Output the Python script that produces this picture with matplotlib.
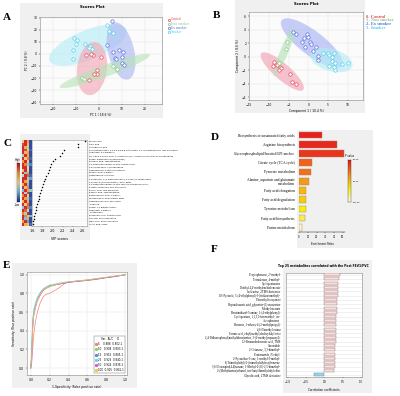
import numpy as np
import matplotlib
matplotlib.use('Agg')
import matplotlib.pyplot as plt
from matplotlib.patches import Rectangle
from matplotlib.lines import Line2D
from matplotlib.colors import LinearSegmentedColormap, ListedColormap

W, H = 400.0, 396.0
SERIF = 'Liberation Serif'

# ---------------- data ----------------
groups = ['Control', 'Non smoker', 'Ex smoker', 'Smoker']
grp_col = ['#e8485a', '#86c986', '#5a6ee0', '#4fd0e6']
grp_fill = ['#f2a3b3', '#b5e3b5', '#a9b4f2', '#b3ecf6']

# A: PCA scores
pca_x = [[-5.4, -2.7, 0.7, -0.7, -1.0, -2.2, -4.2, -3.6],
         [-7.5, -6.5, 6.2, 7.7],
         [5.5, 3.3, 6.2, 8.8, 10.3, 7.0, 9.9, 9.9, 10.9, 7.6],
         [-10.9, -9.7, -10.0, -11.4, -6.0, -3.9, -3.2, -11.4, 3.3, 4.5, 6.2, -4.5]]
pca_y = [[-0.8, -0.8, -3.0, -13.0, -16.5, -17.0, -22.0, -0.5],
         [-19.8, -20.6, -10.3, -12.5],
         [26.8, 7.1, 1.9, 3.0, 1.9, -3.8, -3.0, -7.9, -8.9, -4.0],
         [12.8, 11.4, 7.9, 3.5, 7.9, 6.5, 4.3, -4.3, 23.6, 18.7, 17.3, 5.0]]
pca_ell_c = [(-3.0, -12.2), (2.6, -14.2), (9.6, 2.4), (-4.8, 7.3)]
pca_ell_u = [(1.0, 22.0), (19.6, 13.4), (3.0, -23.6), (16.7, 13.0)]
pca_ell_v = [(6.5, 0.0), (0.9, -4.6), (5.5, 2.5), (2.5, -11.3)]

# B: PLS-DA scores
pls_x = [[-8.7, -8.9, -8.0, -7.2, -6.8, -7.4, -4.7, -4.2, -3.1],
         [-7.4, -5.7, -5.5],
         [-3.8, -3.2, -1.7, -1.0, -0.3, 0.4, 0.7, -0.8, 1.1, 2.5, 2.5, 1.8, 0.0],
         [3.8, 4.9, 5.3, 6.0, 6.5, 6.0, 6.8, 6.4, 6.6, 5.1, 8.5, 10.0]]
pls_y = [[-0.8, -1.4, -1.3, -1.5, -1.7, -2.0, -2.6, -3.8, -4.0],
         [-0.9, 1.2, 2.1],
         [3.6, 3.3, 2.1, 2.7, 3.3, 2.2, 1.8, 1.5, 0.9, 0.1, -0.5, 1.4, 2.9],
         [0.5, 0.6, 0.25, 0.0, 0.6, -0.7, -0.9, -1.5, -1.9, -1.4, -1.1, -0.9]]
pls_ell_c = [(-6.6, -2.2), (-6.1, 0.74), (0.87, 2.0), (5.8, -0.5)]
pls_ell_u = [(5.3, -2.7), (2.6, 3.6), (7.6, -3.4), (5.3, -0.9)]
pls_ell_v = [(1.35, 0.88), (0.94, -0.22), (1.9, 1.4), (0.77, 1.56)]

# C: VIP scores
vip_names = ['Pyruvic acid', 'Oleic acid', 'Lactobacillic acid',
             'Cyclotetrasiloxane, 2,2,4,4,6,6,8,8-octamethyl-1,1\'-dimethylene bis, TMS derivative',
             'Undecane, 3,7-dimethyl-',
             '1H-Indole-3-acetic acid, 1-(trimethylsilyl)-, trimethylsilyl ester, 2TMS derivative',
             'Silane, diethylmethyl(dodecyloxy)-', 'Octanoic acid, TMS derivative',
             '1,2-Benzenedicarboxylic acid, dibutyl ester', '2-Ethylhexanoic, TMS derivative',
             'Hexadecanoic, 2-methyl-2-phenyl-', 'Palmitic acid, 2-methyl-',
             'Heptadecane, 2-methyl-', '1-Butanone, 1-(4-methoxyphenyl)-2-phenyl-2-propylidene',
             'L-Valine, N-(trifluoroacetyl)-, butyl ester',
             '1,2-Benzenedicarboxylic acid, bis(2-methylpropyl) ester',
             '2-Methylpropanoic acid, ethyl ester', 'Stearic acid, TMS derivative',
             'Benzoic acid, TMS derivative', 'Benzeneacetic acid, 4-methyl-',
             'Pentadecanoic acid, methyl ester', 'Hexadecanoic acid, ethyl ester',
             'Tridecane', 'Silane, 1,1-dimethylbutyl-', 'Dodecane, 2-methyl-',
             'Pentadecane', 'Phosphoric acid, tributyl ester', 'Glycerol, 3TMS derivative',
             'Malic acid, 3TMS derivative', 'Lactic acid, 2TMS']
vip_vals = [2.65, 2.50, 2.50, 2.23, 2.18, 2.14, 2.06, 2.02, 1.98, 1.95, 1.93, 1.91, 1.88,
            1.86, 1.84, 1.82, 1.80, 1.78, 1.76, 1.74, 1.73, 1.71, 1.70, 1.68, 1.67,
            1.65, 1.64, 1.63, 1.62, 1.61]
vip_heat = [[0.2, 0.9, 0.5, -0.9], [0.8, 0.9, 0.3, -0.9], [0.9, 0.4, -0.3, -0.9],
            [0.9, 0.8, 0.2, -0.8], [0.9, 0.3, 0.5, -0.9], [-0.3, 0.9, 0.4, -0.9],
            [0.9, 0.2, 0.6, -0.8], [0.5, 0.9, 0.2, -0.9], [0.9, 0.6, -0.4, -0.7],
            [0.9, 0.9, 0.1, -0.9], [0.3, 0.9, -0.2, -0.9], [0.9, -0.4, 0.5, -0.9],
            [-0.2, 0.9, 0.7, -0.8], [0.9, 0.9, -0.3, -0.6], [0.9, 0.5, 0.3, -0.9],
            [0.4, 0.9, -0.5, -0.9], [0.9, 0.3, 0.6, -0.9], [-0.5, 0.9, 0.5, -0.4],
            [0.9, -0.3, 0.8, -0.9], [0.6, 0.9, 0.2, -0.9], [0.9, 0.5, -0.4, -0.8],
            [0.3, 0.9, 0.4, -0.9], [0.9, 0.2, 0.7, -0.9], [-0.4, 0.9, 0.6, -0.7],
            [0.9, 0.7, -0.2, -0.9], [0.6, -0.3, 0.9, -0.9], [0.9, 0.6, 0.3, -0.5],
            [0.9, -0.5, 0.4, -0.9], [0.5, 0.9, -0.6, -0.9], [0.9, 0.4, 0.3, -0.8]]

# D: pathway enrichment
path_names = ['Biosynthesis of unsaturated fatty acids', 'Arginine biosynthesis',
              'Glycerophospholipid/Inositol/GPI-anchor', 'Citrate cycle (TCA cycle)',
              'Pyruvate metabolism', 'Alanine, aspartate and glutamate\nmetabolism',
              'Fatty acid elongation', 'Fatty acid degradation', 'Tyrosine metabolism',
              'Fatty acid biosynthesis', 'Purine metabolism']
path_ratio = [26.2, 43.8, 51.2, 15.4, 13.8, 11.2, 8.1, 8.1, 7.7, 6.9, 3.8]
path_col = ['#e8201c', '#e8281c', '#e8361c', '#f0621c', '#f2701c', '#f29a1c',
            '#f5b90e', '#f5cc0e', '#f5ee10', '#f5ee50', '#faf6c8']

# E: ROC curves
roc_fpr = [0.0, 0.01, 0.02, 0.03, 0.05, 0.07, 0.1, 0.13, 0.16, 0.2, 0.25, 0.3,
           0.35, 0.4, 0.5, 0.6, 0.7, 0.8, 0.9, 1.0]
roc_tpr = [
    [0.0, 0.05, 0.2, 0.35, 0.5, 0.6, 0.7, 0.76, 0.79, 0.8, 0.83, 0.86, 0.9, 0.92, 0.93, 0.94, 0.95, 0.97, 0.98, 1.0],
    [0.0, 0.2, 0.5, 0.6, 0.68, 0.73, 0.79, 0.83, 0.85, 0.87, 0.89, 0.9, 0.91, 0.92, 0.93, 0.94, 0.955, 0.97, 0.985, 1.0],
    [0.0, 0.15, 0.45, 0.58, 0.67, 0.74, 0.8, 0.84, 0.86, 0.88, 0.89, 0.9, 0.91, 0.92, 0.935, 0.945, 0.96, 0.97, 0.985, 1.0],
    [0.0, 0.25, 0.5, 0.62, 0.7, 0.76, 0.81, 0.85, 0.87, 0.89, 0.9, 0.91, 0.92, 0.925, 0.935, 0.945, 0.955, 0.97, 0.985, 1.0],
    [0.0, 0.1, 0.4, 0.55, 0.65, 0.72, 0.78, 0.83, 0.86, 0.88, 0.89, 0.9, 0.91, 0.92, 0.93, 0.94, 0.955, 0.97, 0.985, 1.0],
    [0.0, 0.12, 0.42, 0.56, 0.66, 0.73, 0.79, 0.84, 0.86, 0.875, 0.89, 0.905, 0.915, 0.925, 0.935, 0.945, 0.96, 0.975, 0.99, 1.0]]
roc_var = ['5', '10', '15', '25', '50', '100']
roc_auc = ['0.888', '0.908', '0.915', '0.925', '0.924', '0.925']
roc_ci = ['0.802-1', '0.803-1', '0.805-1', '0.840-1', '0.839-1', '0.841-1']
roc_col = ['#f28080', '#8fd65a', '#5b8ee6', '#62dbe8', '#e055e0', '#f2c84a']

# F: correlation
corr_names = ["Propiophenone, 2'-methyl-", 'Tetradecane, 4-methyl-', 'Cyclopentanone',
              "Diethyl 4,4'-methylenebisbenzoate", 'Isoleucine, 2TMS derivative',
              '1H-Pyrazole, 5-(4-ethylphenyl)-3-(trifluoromethyl)-', 'Phenethyl isocyanate',
              'Heptadecanoic acid, glycerine-(1)-monoester', 'Methyl stearate',
              'Benzimidazol-5-amine, 1-(4-ethylphenyl)-', 'Cyclopentane, 1,1,3,3-tetramethyl-, cis-',
              'Acetophenone', 'Benzene, 1-ethoxy-4-(2-methylpropyl)-', '4,6-Dimethyl octane',
              'Formic acid, ethyl(methyl)dodecylsilyl ester',
              '2,4-Difluorophenyl(methylidene)amine, 3-(2-methylpropanoyl)-',
              '12-Bromododecanoic acid, TMS', 'Coronalide', '2-Octanone, 3,3-dimethyl-',
              'Pentanamide, N-ethyl-', '2-Pyrazoline-5-one, 1-methyl-3-methyl-',
              '1-(Trimethylsilyl)-2-(trimethylsilyloxy)benzene',
              '3,6-Dioxaspiro[4.4]nonane, 1-Methyl-2-(E)-2,5-dimethyl-',
              '2-(Methylamino)ethanol, tert-butyldimethylsilyl ether',
              'Glycolic acid, 2TMS derivative']
corr_vals = [0.42, 0.39, 0.37, 0.37, 0.36, 0.36, 0.35, 0.35, 0.34, 0.34, 0.33, 0.33,
             0.33, 0.32, 0.32, 0.31, 0.31, 0.30, 0.30, 0.29, 0.29, 0.28, 0.28, 0.27, -0.27]


def box(x0, y0, x1, y1):
    return [x0 / W, 1 - y1 / H, (x1 - x0) / W, (y1 - y0) / H]


def ftext(x, y, s, **kw):
    fig.text(x / W, 1 - y / H, s, **kw)


def gray_bg(x0, y0, x1, y1, c='#f0f0f0'):
    fig.add_artist(Rectangle((x0 / W, 1 - y1 / H), (x1 - x0) / W, (y1 - y0) / H,
                             transform=fig.transFigure, fc=c, ec='none', zorder=0))


def ellipse(ax, c, u, v, **kw):
    t = np.linspace(0, 2 * np.pi, 120)
    ax.fill(c[0] + u[0] * np.cos(t) + v[0] * np.sin(t),
            c[1] + u[1] * np.cos(t) + v[1] * np.sin(t), **kw)


def small_axes(ax, fs=2.2):
    ax.tick_params(labelsize=fs, length=1, width=0.3, pad=1)
    for s in ax.spines.values():
        s.set_linewidth(0.4)
        s.set_color('#888888')
    ax.grid(color='#e2e2e2', lw=0.3)
    ax.set_axisbelow(True)


fig = plt.figure(figsize=(W / 100, H / 100), dpi=100)

# ---------------- A ----------------
gray_bg(20, 3, 163, 118)
ax = fig.add_axes(box(40, 17, 162, 104))
ax.set_facecolor('#fbfbfb')
small_axes(ax)
for i in [3, 0, 2, 1]:
    ellipse(ax, pca_ell_c[i], pca_ell_u[i], pca_ell_v[i], color=grp_fill[i], alpha=0.6, lw=0, zorder=1)
for i in range(4):
    ax.scatter(pca_x[i], pca_y[i], s=6, facecolor='white', edgecolor=grp_col[i], lw=0.5, zorder=3)
ax.set_xlim(-25.6, 27.4)
ax.set_ylim(-41.5, 30.5)
ax.set_xticks([-20, -10, 0, 10, 20])
ax.set_yticks([30, 20, 10, 0, -10, -20, -30, -40])
ax.set_xlabel('PC 1 ( 18.6 %)', fontsize=2.2, labelpad=1.5)
ax.set_ylabel('PC 2 ( 9.8 %)', fontsize=2.2, labelpad=1.5)
ftext(92, 7, 'Scores Plot', fontsize=2.8, fontweight='bold', ha='center', va='center')
for i, g in enumerate(groups):
    yy = 19.5 + i * 4.2
    fig.add_artist(Line2D([168.5 / W], [1 - yy / H], marker='o', ms=1.6, mfc='white',
                          mec=grp_col[i], mew=0.5, transform=fig.transFigure))
    ftext(171, yy, g, fontsize=2.6, color=grp_col[i], va='center', family=SERIF)
ftext(3, 17, 'A', fontsize=8, fontweight='bold', family=SERIF, va='center')

# ---------------- B ----------------
gray_bg(235, 0, 365, 113)
ax = fig.add_axes(box(249, 12, 363, 100))
ax.set_facecolor('#fbfbfb')
small_axes(ax)
for i in [2, 3, 0, 1]:
    ellipse(ax, pls_ell_c[i], pls_ell_u[i], pls_ell_v[i], color=grp_fill[i], alpha=0.65, lw=0, zorder=1)
for i in range(4):
    ax.scatter(pls_x[i], pls_y[i], s=6, facecolor='white', edgecolor=grp_col[i], lw=0.5, zorder=3)
ax.set_xlim(-15, 13.8)
ax.set_ylim(-6.4, 6.6)
ax.set_xticks([-15, -10, -5, 0, 5, 10])
ax.set_yticks([6, 4, 2, 0, -2, -4, -6])
ax.set_xlabel('Component 1 ( 10.4 %)', fontsize=2.2, labelpad=1.5)
ax.set_ylabel('Component 2 ( 8.6 %)', fontsize=2.2, labelpad=1.5)
ftext(306, 4, 'Scores Plot', fontsize=2.8, fontweight='bold', ha='center', va='center')
for i, g in enumerate(groups):
    ftext(366, 16.5 + i * 3.8, '%d- %s' % (i, g), fontsize=3.2, color=grp_col[i],
          va='center', family=SERIF, fontweight='bold')
ftext(213, 16, 'B', fontsize=8, fontweight='bold', family=SERIF, va='center')

# ---------------- C ----------------
gray_bg(20, 134, 90, 240)
gray_bg(14, 158, 21, 208, c='#f6f6f6')
heat_cmap = LinearSegmentedColormap.from_list(
    'hm', ['#27308f', '#73c3e0', '#fbe3a0', '#f5a03a', '#c8102e'])
axh = fig.add_axes(box(21.7, 140, 31, 225.7))
axh.imshow(np.array(vip_heat), aspect='auto', cmap=heat_cmap, vmin=-1, vmax=1,
           interpolation='nearest')
axh.set_xticks([])
axh.set_yticks([])
for s in axh.spines.values():
    s.set_visible(False)
axcb = fig.add_axes(box(16.5, 163, 19, 202))
axcb.imshow(np.linspace(1, -1, 50)[:, None], aspect='auto', cmap=heat_cmap, vmin=-1, vmax=1)
axcb.set_xticks([])
axcb.set_yticks([])
for s in axcb.spines.values():
    s.set_linewidth(0.2)
ftext(17.5, 160, 'High', fontsize=1.8, ha='center', va='center')
ftext(17.5, 205, 'Low', fontsize=1.8, ha='center', va='center')

ax = fig.add_axes(box(31.7, 140, 87.3, 225.7))
ax.set_facecolor('white')
n = len(vip_vals)
ax.scatter(vip_vals, np.arange(n), s=1.2, color='black', zorder=3, lw=0)
ax.set_ylim(n - 0.5, -0.5)
ax.set_xlim(1.59, 2.69)
ax.set_xticks([1.6, 1.8, 2.0, 2.2, 2.4, 2.6])
ax.set_xticklabels(['1.6', '1.8', '2.0', '2.2', '2.4', '2.6'])
ax.set_yticks(np.arange(n))
ax.yaxis.tick_right()
ax.set_yticklabels(vip_names, fontsize=1.5)
ax.tick_params(axis='y', length=0, pad=1.5)
ax.tick_params(axis='x', labelsize=2.4, length=1, width=0.3, pad=1.5)
ax.grid(axis='y', color='#e6e6e6', lw=0.3)
ax.set_axisbelow(True)
for s in ax.spines.values():
    s.set_linewidth(0.4)
    s.set_color('#999999')
ax.set_xlabel('VIP scores', fontsize=2.4, labelpad=3)
ftext(3, 143, 'C', fontsize=8, fontweight='bold', family=SERIF, va='center')

# ---------------- D ----------------
gray_bg(297, 130, 373, 248)
ax = fig.add_axes(box(299, 130.4, 345, 232))
ax.patch.set_visible(False)
m = len(path_ratio)
ax.barh(np.arange(m), path_ratio, height=0.72, color=path_col, edgecolor='#a08070', lw=0.3)
ax.set_ylim(m - 0.5, -0.5)
ax.set_xlim(0, 52.5)
ax.set_xticks([0, 10, 20, 30, 40, 50])
ax.set_yticks(np.arange(m))
ax.set_yticklabels(path_names, fontsize=2.6, family=SERIF, linespacing=1.0)
ax.tick_params(axis='y', length=0, pad=3)
ax.tick_params(axis='x', labelsize=1.8, length=1, width=0.3, pad=1)
for k in ['top', 'right', 'left']:
    ax.spines[k].set_visible(False)
ax.spines['bottom'].set_linewidth(0.3)
ax.set_xlabel('Enrichment Ratio', fontsize=1.9, labelpad=2)
pcmap = LinearSegmentedColormap.from_list('pv', ['#e8201c', '#f28a1c', '#f5ee10', '#fafae6'])
axcb = fig.add_axes(box(348, 160, 351, 202))
axcb.imshow(np.linspace(0, 1, 50)[:, None], aspect='auto', cmap=pcmap)
axcb.set_xticks([])
axcb.set_yticks([])
for s in axcb.spines.values():
    s.set_linewidth(0.2)
ftext(345, 156, 'P value', fontsize=1.8, va='center')
for yy, lab in zip([160, 181, 202], ['1e-04', '1e-02', '1e+00']):
    ftext(353, yy, lab, fontsize=1.6, va='center')
ftext(211, 138, 'D', fontsize=8, fontweight='bold', family=SERIF, va='center')

# ---------------- E ----------------
gray_bg(12, 263, 137, 388)
ax = fig.add_axes(box(27, 272, 127, 375))
ax.set_facecolor('white')
small_axes(ax)
for i in range(len(roc_tpr)):
    ax.plot(roc_fpr, roc_tpr[i], color=roc_col[i], lw=0.5)
ax.set_xlim(-0.04, 1.02)
ax.set_ylim(-0.075, 1.03)
ax.set_xticks([0, 0.2, 0.4, 0.6, 0.8, 1.0])
ax.set_yticks([0, 0.2, 0.4, 0.6, 0.8, 1.0])
ax.set_xlabel('1-Specificity (False positive rate)', fontsize=2.2, labelpad=2)
ax.set_ylabel('Sensitivity (True positive rate)', fontsize=2.2, labelpad=2)
handles = [Line2D([], [], ls='none', marker='s', ms=1.2, color=c) for c in roc_col]
labels = ['%-4s %s  %s' % (v, a, c) for v, a, c in zip(roc_var, roc_auc, roc_ci)]
leg = ax.legend(handles, labels, loc='lower right', fontsize=1.9, title='Var.  AUC    CI',
                title_fontsize=1.9, handlelength=0.6, handletextpad=0.5, borderpad=0.5,
                labelspacing=0.45, frameon=True, fancybox=False, framealpha=1,
                borderaxespad=0.6)
leg.get_frame().set_linewidth(0.3)
leg.get_frame().set_edgecolor('#666666')
ftext(3, 265, 'E', fontsize=8, fontweight='bold', family=SERIF, va='center')

# ---------------- F ----------------
gray_bg(283, 260, 372, 393)
ax = fig.add_axes(box(286, 272.7, 362, 377))
ax.set_facecolor('white')
k = len(corr_vals)
fcol = ['#fadede' if v > 0 else '#9fd4ea' for v in corr_vals]
ecol = ['#8a6a6a' if v > 0 else '#4a7fa0' for v in corr_vals]
ax.barh(np.arange(k), corr_vals, height=0.72, color=fcol, edgecolor=ecol, lw=0.3, zorder=3)
ax.set_ylim(k - 0.5, -0.5)
ax.set_xlim(-1.046, 1.027)
ax.set_xticks([-1.0, -0.5, 0.0, 0.5, 1.0])
ax.set_yticks(np.arange(k))
ax.set_yticklabels(corr_names, fontsize=2.1, family=SERIF)
ax.tick_params(axis='y', length=0, pad=4)
ax.tick_params(axis='x', labelsize=1.8, length=1, width=0.3, pad=1.5)
ax.grid(axis='y', color='#e6e6e6', lw=0.4)
ax.set_axisbelow(True)
for s in ax.spines.values():
    s.set_linewidth(0.4)
    s.set_color('#888888')
ax.set_xlabel('Correlation coefficients', fontsize=2.0, labelpad=2.5)
ftext(323, 266, 'Top 25 metabolites correlated with the Post FEV1/FVC', fontsize=2.2,
      fontweight='bold', ha='center', va='center')
ftext(211, 249, 'F', fontsize=8, fontweight='bold', family=SERIF, va='center')

fig.savefig('out.png', dpi=100)
